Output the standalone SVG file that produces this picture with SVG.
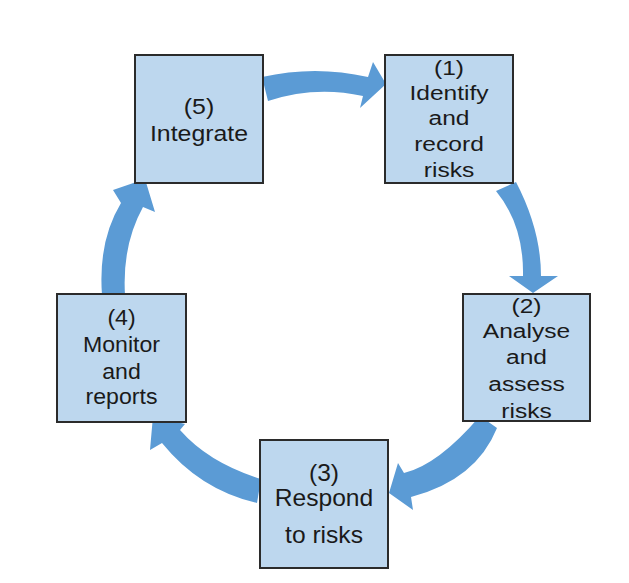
<svg xmlns="http://www.w3.org/2000/svg" width="629" height="583" viewBox="0 0 629 583">
<style>
.box{fill:#BDD7EE;stroke:#2b2b2b;stroke-width:2}
.arrow{fill:#5B9BD5;stroke:none}
text{font-family:"Liberation Sans",Arial,sans-serif;fill:#1a1a1a;text-anchor:middle}
</style>
<rect width="629" height="583" fill="#ffffff"/>
<g id="connectors">
<path class="arrow" d="M262,77 Q315,65 368,77 L373,62 L386,84 L360,108 L363,96 Q315,85.5 268,101 Z"/>
<path class="arrow" d="M496,191 L516,182 Q541,230 541,276 L558,276 L533,293 L509,276 L523,276 Q524,225 496,191 Z"/>
<path class="arrow" d="M480,416 L497,428 Q476,480 411,497 L413,510 L389,493 L398,463 L404,473 Q438,465 480,416 Z"/>
<path class="arrow" d="M261,479 L257,503 Q200,490 162,443 L150,450 L153,416 L185,424 L180,430 Q209,463 261,479 Z"/>
<path class="arrow" d="M102,295 Q98,241 121,203 L113,190 L145,179 L155,212 L143,207 Q122,245 125,295 Z"/>
</g>
<g id="node1">
<rect class="box" x="385" y="55" width="128" height="128"/>
<g transform="translate(449,0) scale(1.17,1)" font-size="21">
<text x="0" y="75">(1)</text><text x="0" y="100">Identify</text><text x="0" y="125">and</text><text x="0" y="151">record</text><text x="0" y="177">risks</text>
</g>
</g>
<g id="node2">
<rect class="box" x="463" y="294" width="127" height="127"/>
<g transform="translate(526.5,0) scale(1.17,1)" font-size="21">
<text x="0" y="313">(2)</text><text x="0" y="338">Analyse</text><text x="0" y="364">and</text><text x="0" y="391">assess</text><text x="0" y="418">risks</text>
</g>
</g>
<g id="node3">
<rect class="box" x="260" y="440" width="128" height="128"/>
<g transform="translate(324,0) scale(1.07,1)" font-size="23">
<text x="0" y="481">(3)</text><text x="0" y="506">Respond</text><text x="0" y="543">to risks</text>
</g>
</g>
<g id="node4">
<rect class="box" x="57" y="294" width="129" height="128"/>
<g transform="translate(121.5,0) scale(1.05,1)" font-size="22">
<text x="0" y="325">(4)</text><text x="0" y="352">Monitor</text><text x="0" y="379">and</text><text x="0" y="404">reports</text>
</g>
</g>
<g id="node5">
<rect class="box" x="135" y="55" width="128" height="128"/>
<g transform="translate(199,0) scale(1.13,1)" font-size="22">
<text x="0" y="114">(5)</text><text x="0" y="141">Integrate</text>
</g>
</g>
</svg>
